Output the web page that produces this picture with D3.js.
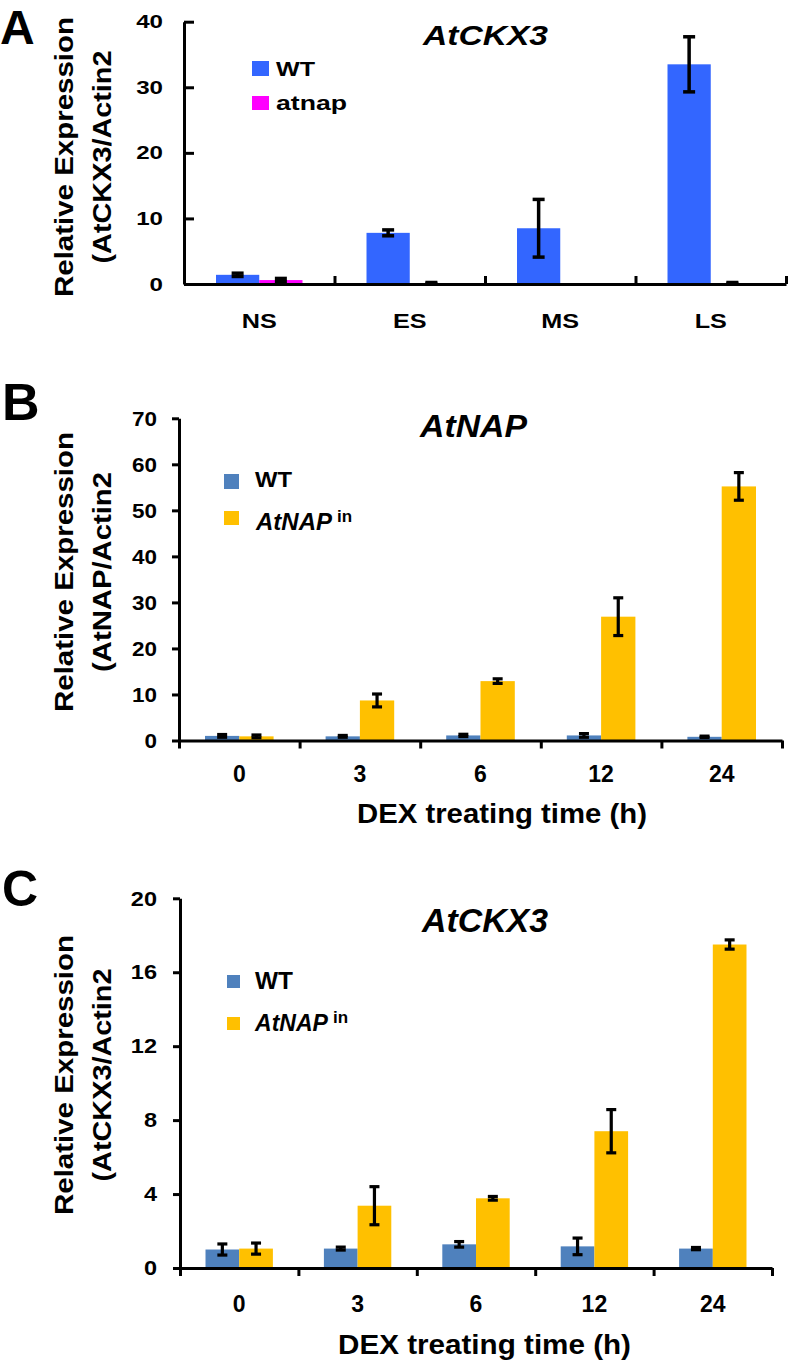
<!DOCTYPE html>
<html>
<head>
<meta charset="utf-8">
<script src="https://cdn.jsdelivr.net/npm/d3@7"></script>
<style>
  html, body { margin: 0; padding: 0; background: #fff; }
  svg { display: block; }
  text { font-family: 'Liberation Sans', Arial, Helvetica, sans-serif; font-weight: bold; fill: #000; }
</style>
</head>
<body>
<script>
// ---------- DATA ----------
// Panel A
const aCats = ["NS", "ES", "MS", "LS"];
const aWT = [1.4, 7.8, 8.5, 33.5];
const aWTErr = [0.25, 0.45, 4.4, 4.2];
const aNap = [0.6, 0.15, 0.03, 0.15];
const aNapErr = [0.25, 0.08, 0, 0.08];
const aTicks = [0, 10, 20, 30, 40];

// Panels B and C share time points
const times = ["0", "3", "6", "12", "24"];
// Panel B (AtNAP)
const bWT = [1.0, 0.9, 1.1, 1.1, 0.8];
const bWTErr = [0.3, 0.2, 0.25, 0.4, 0.15];
const bIn = [0.9, 8.7, 12.9, 26.9, 55.2];
const bInErr = [0.3, 1.4, 0.5, 4.1, 3.0];
const bTicks = [0, 10, 20, 30, 40, 50, 60, 70];
// Panel C (AtCKX3)
const cWT = [1.0, 1.05, 1.28, 1.17, 1.05];
const cWTErr = [0.3, 0.08, 0.15, 0.45, 0.06];
const cIn = [1.05, 3.37, 3.77, 7.4, 17.5];
const cInErr = [0.3, 1.03, 0.1, 1.17, 0.25];
const cTicks = [0, 4, 8, 12, 16, 20];

// ---------- DRAWING ----------
const W = 789, H = 1361;
const svg = d3.select("body").append("svg").attr("width", W).attr("height", H);
svg.append("rect").attr("width", W).attr("height", H).attr("fill", "#fff");

function stretch(sel, k) {
  sel.each(function () {
    const L = this.getComputedTextLength();
    this.setAttribute("textLength", L * k);
    this.setAttribute("lengthAdjust", "spacingAndGlyphs");
  });
}
function fixLen(sel, len) {
  sel.attr("textLength", len).attr("lengthAdjust", "spacingAndGlyphs");
}

function panel(o) {
  const g = svg.append("g");
  const x = d3.scaleBand().domain(o.cats).range([o.x0, o.x1]).paddingInner(0).paddingOuter(0);
  const xs = d3.scaleBand().domain(o.series.map(s => s.name)).range([0, x.bandwidth()])
    .paddingInner(0).paddingOuter(o.padOuter);
  const y = d3.scaleLinear().domain(o.yDomain).range([o.yBottom, o.yTop]);

  // bars
  o.series.forEach(s => {
    const rows = o.cats.map((c, i) => ({ c, v: s.vals[i], e: s.errs[i] }));
    g.append("g").selectAll("rect").data(rows).enter().append("rect")
      .attr("x", d => x(d.c) + xs(s.name))
      .attr("width", xs.bandwidth())
      .attr("y", d => y(d.v))
      .attr("height", d => y(0) - y(d.v))
      .attr("fill", s.color);
  });

  // error bars
  o.series.forEach(s => {
    const rows = o.cats.map((c, i) => ({ c, v: s.vals[i], e: s.errs[i] })).filter(d => d.e > 0);
    const cx = d => x(d.c) + xs(s.name) + xs.bandwidth() / 2;
    const eg = g.append("g").attr("stroke", "#000").attr("stroke-width", o.errW);
    eg.selectAll("line.v").data(rows).enter().append("line").attr("class", "v")
      .attr("x1", cx).attr("x2", cx)
      .attr("y1", d => y(d.v - d.e)).attr("y2", d => y(d.v + d.e));
    [-1, 1].forEach(sg => {
      eg.selectAll(null).data(rows).enter().append("line")
        .attr("x1", d => cx(d) - o.capW / 2).attr("x2", d => cx(d) + o.capW / 2)
        .attr("y1", d => y(d.v + sg * d.e)).attr("y2", d => y(d.v + sg * d.e));
    });
  });

  // y axis
  const ya = d3.axisLeft(y).tickValues(o.yTicks).tickSizeInner(o.yTickSize).tickSizeOuter(0)
    .tickPadding(o.yPad).tickFormat(d3.format("d"));
  const yg = g.append("g").attr("transform", `translate(${o.x0},0)`).call(ya);
  yg.attr("font-size", null).attr("font-family", null);
  yg.selectAll("text").style("font-size", o.yFont + "px");
  stretch(yg.selectAll("text"), o.yStretch);

  // x axis (category labels)
  const xa = d3.axisBottom(x).tickSize(0).tickPadding(o.xPad);
  const xg = g.append("g").attr("transform", `translate(0,${o.yBottom})`).call(xa);
  xg.attr("font-size", null).attr("font-family", null);
  xg.selectAll("text").style("font-size", o.xFont + "px");
  stretch(xg.selectAll("text"), o.xStretch);
  xg.select(".domain").remove();

  // boundary ticks + axis line
  const bnd = d3.scaleLinear().domain([0, o.cats.length]).range([o.x0, o.x1]);
  const ba = d3.axisBottom(bnd).tickValues(d3.range(o.cats.length + 1))
    .tickSizeInner(o.xTickSize).tickSizeOuter(0).tickFormat("");
  g.append("g").attr("transform", `translate(0,${o.yBottom})`).call(ba);

  g.selectAll(".domain, .tick line").attr("stroke", "#000").attr("stroke-width", 3);
  return g;
}

const colA = { wt: "#3366ff", nap: "#ff00ff" };
const colBC = { wt: "#4f81bd", inn: "#ffc000" };

// ---- Panel A ----
panel({
  cats: aCats,
  series: [
    { name: "WT", vals: aWT, errs: aWTErr, color: colA.wt },
    { name: "atnap", vals: aNap, errs: aNapErr, color: colA.nap }
  ],
  x0: 184, x1: 786, yBottom: 284, yTop: 21.7, yDomain: [0, 40], yTicks: aTicks,
  padOuter: 0.74, capW: 12, errW: 3.5,
  yTickSize: -10, yPad: 21, yFont: 19, yStretch: 1.27,
  xPad: 29, xFont: 21, xStretch: 1.2, xTickSize: -8
});

// ---- Panel B ----
panel({
  cats: times,
  series: [
    { name: "WT", vals: bWT, errs: bWTErr, color: colBC.wt },
    { name: "AtNAPin", vals: bIn, errs: bInErr, color: colBC.inn }
  ],
  x0: 179, x1: 782, yBottom: 740.5, yTop: 418.3, yDomain: [0, 70], yTicks: bTicks,
  padOuter: 0.758, capW: 10, errW: 3.2,
  yTickSize: 7, yPad: 15, yFont: 21, yStretch: 1.07,
  xPad: 25, xFont: 23, xStretch: 1.0, xTickSize: 8
});

// ---- Panel C ----
panel({
  cats: times,
  series: [
    { name: "WT", vals: cWT, errs: cWTErr, color: colBC.wt },
    { name: "AtNAPin", vals: cIn, errs: cInErr, color: colBC.inn }
  ],
  x0: 180, x1: 772, yBottom: 1268, yTop: 898.3, yDomain: [0, 20], yTicks: cTicks,
  padOuter: 0.757, capW: 10, errW: 3.2,
  yTickSize: 7, yPad: 16, yFont: 21, yStretch: 1.12,
  xPad: 28, xFont: 23, xStretch: 1.0, xTickSize: 8
});

// ---- Panel letters ----
svg.append("text").attr("x", 0).attr("y", 44).style("font-size", "48px").text("A");
svg.append("text").attr("x", 2).attr("y", 420).style("font-size", "52px").text("B");
svg.append("text").attr("x", 2).attr("y", 906).style("font-size", "50px").text("C");

// ---- Titles ----
fixLen(svg.append("text").attr("x", 423).attr("y", 45).style("font-size", "28px")
  .style("font-style", "italic").text("AtCKX3"), 125);
fixLen(svg.append("text").attr("x", 420).attr("y", 437).style("font-size", "32px")
  .style("font-style", "italic").text("AtNAP"), 107);
fixLen(svg.append("text").attr("x", 422).attr("y", 932).style("font-size", "32.5px")
  .style("font-style", "italic").text("AtCKX3"), 126);

// ---- Y-axis titles ----
function yTitle(cy, l1, l2, len1, len2) {
  fixLen(svg.append("text").attr("transform", `translate(${73},${cy}) rotate(-90)`)
    .attr("text-anchor", "middle").style("font-size", "25px").text(l1), len1);
  fixLen(svg.append("text").attr("transform", `translate(${111},${cy}) rotate(-90)`)
    .attr("text-anchor", "middle").style("font-size", "25px").text(l2), len2);
}
yTitle(157, "Relative Expression", "(AtCKX3/Actin2", 280, 213);
yTitle(572, "Relative Expression", "(AtNAP/Actin2", 280, 200);
yTitle(1075, "Relative Expression", "(AtCKX3/Actin2", 280, 213);

// ---- X-axis titles ----
fixLen(svg.append("text").attr("x", 357).attr("y", 823).style("font-size", "28px")
  .text("DEX treating time (h)"), 290);
fixLen(svg.append("text").attr("x", 338).attr("y", 1354).style("font-size", "27px")
  .text("DEX treating time (h)"), 293);

// ---- Legends ----
// A
svg.append("rect").attr("x", 252).attr("y", 61).attr("width", 17).attr("height", 15).attr("fill", colA.wt);
svg.append("rect").attr("x", 252).attr("y", 96).attr("width", 17).attr("height", 14).attr("fill", colA.nap);
fixLen(svg.append("text").attr("x", 276).attr("y", 76).style("font-size", "20px").text("WT"), 39);
fixLen(svg.append("text").attr("x", 276).attr("y", 110).style("font-size", "20px").text("atnap"), 71);
// B
svg.append("rect").attr("x", 224).attr("y", 474).attr("width", 15).attr("height", 15).attr("fill", colBC.wt);
svg.append("rect").attr("x", 224).attr("y", 511).attr("width", 15).attr("height", 14).attr("fill", colBC.inn);
fixLen(svg.append("text").attr("x", 255).attr("y", 487).style("font-size", "22px").text("WT"), 37);
fixLen(svg.append("text").attr("x", 256).attr("y", 530).style("font-size", "23px")
  .style("font-style", "italic").text("AtNAP"), 76);
svg.append("text").attr("x", 337).attr("y", 522).style("font-size", "17px").text("in");
// C
svg.append("rect").attr("x", 227).attr("y", 975).attr("width", 13).attr("height", 13).attr("fill", colBC.wt);
svg.append("rect").attr("x", 227).attr("y", 1017).attr("width", 13).attr("height", 13).attr("fill", colBC.inn);
fixLen(svg.append("text").attr("x", 255).attr("y", 989).style("font-size", "23px").text("WT"), 38);
fixLen(svg.append("text").attr("x", 255).attr("y", 1031).style("font-size", "23px")
  .style("font-style", "italic").text("AtNAP"), 73);
svg.append("text").attr("x", 333).attr("y", 1023).style("font-size", "17px").text("in");
</script>
</body>
</html>
